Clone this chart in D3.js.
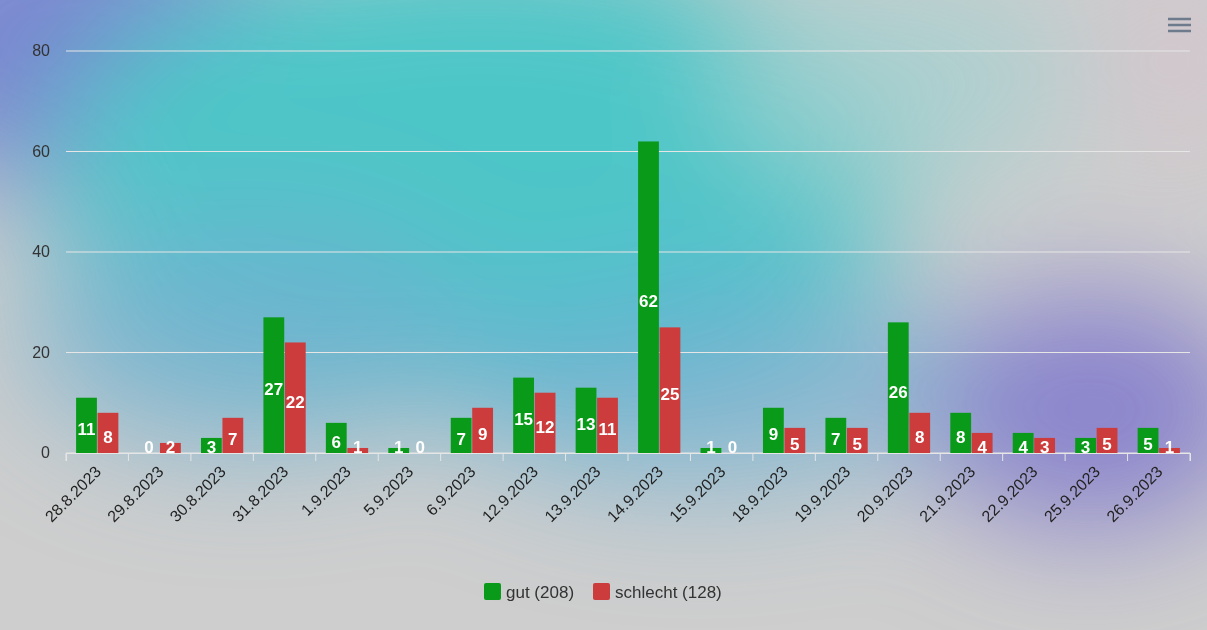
<!DOCTYPE html>
<html><head><meta charset="utf-8">
<script src="https://cdn.jsdelivr.net/npm/d3@7"></script>
<style>body{margin:0;overflow:hidden}svg{display:block;font-family:"Liberation Sans",Arial,sans-serif}</style>
</head><body><svg id="c" width="1207" height="630"></svg>
<script>
const categories=["28.8.2023","29.8.2023","30.8.2023","31.8.2023","1.9.2023","5.9.2023","6.9.2023","12.9.2023","13.9.2023","14.9.2023","15.9.2023","18.9.2023","19.9.2023","20.9.2023","21.9.2023","22.9.2023","25.9.2023","26.9.2023"];
const gut=[11,0,3,27,6,1,7,15,13,62,1,9,7,26,8,4,3,5];
const schlecht=[8,2,7,22,1,0,9,12,11,25,0,5,5,8,4,3,5,1];
const yTicks=[0,20,40,60,80];
const seriesNames=["gut","schlecht"];
const colors=["#0a9a1a","#cc3c3c"];

const svg=d3.select("#c");
const defs=svg.append("defs");
defs.append("filter").attr("id","bl").attr("x","-50%").attr("y","-50%").attr("width","200%").attr("height","200%")
 .append("feGaussianBlur").attr("stdDeviation",60);
svg.append("rect").attr("width",1207).attr("height",630).attr("fill","#cecece");
const bg=svg.append("g").attr("filter","url(#bl)");
bg.append("ellipse").attr("cx",80).attr("cy",40).attr("rx",220).attr("ry",160).attr("fill","#7a86d0");
bg.append("ellipse").attr("cx",480).attr("cy",170).attr("rx",430).attr("ry",230).attr("fill","#4ec6c8");
bg.append("ellipse").attr("cx",250).attr("cy",330).attr("rx",230).attr("ry",120).attr("fill","#6fb0d0").attr("opacity",0.8);
bg.append("ellipse").attr("cx",900).attr("cy",80).attr("rx",180).attr("ry",110).attr("fill","#a8cfcf").attr("opacity",0.8);
bg.append("ellipse").attr("cx",1090).attr("cy",410).attr("rx",170).attr("ry",120).attr("fill","#8a84cc");
bg.append("ellipse").attr("cx",700).attr("cy",380).attr("rx",260).attr("ry",110).attr("fill","#6aaed2").attr("opacity",0.7);
bg.append("ellipse").attr("cx",1180).attr("cy",60).attr("rx",90).attr("ry",100).attr("fill","#d2c6cc");

const L=66,R=1190,T=51,B=453;
const x=d3.scaleBand().domain(categories).range([L,R]);
const xi=d3.scaleBand().domain(seriesNames).range([0,x.bandwidth()]).paddingInner(0.03).paddingOuter(0.47);
const y=d3.scaleLinear().domain([0,80]).range([B,T]);

const g=svg.append("g");
g.selectAll(".gl").data(yTicks).join("line").attr("x1",L).attr("x2",R).attr("y1",d=>y(d)).attr("y2",d=>y(d))
 .attr("stroke","#e6e6e6").attr("stroke-width",1);
g.selectAll(".yl").data(yTicks).join("text").attr("x",50).attr("y",d=>y(d)+5).attr("text-anchor","end")
 .attr("font-size",16).attr("fill","#333").text(d=>d);

const xa=svg.append("g").attr("transform",`translate(0,${B})`).call(d3.axisBottom(x).tickSizeOuter(0).tickSize(8));
xa.select(".domain").attr("stroke","#e6e6e6");
xa.selectAll(".tick line").attr("stroke","#e6e6e6").attr("transform",`translate(${-x.bandwidth()/2},0)`);
xa.append("line").attr("x1",R).attr("x2",R).attr("y1",0).attr("y2",8).attr("stroke","#e6e6e6");
xa.selectAll(".tick text").attr("font-size",16).attr("fill","#222").attr("font-family","Liberation Sans, Arial")
 .attr("text-anchor","end").attr("dy",0).attr("transform","translate(-3,12) rotate(-45)");

const data=categories.map((c,i)=>[{c,s:"gut",v:gut[i],k:0},{c,s:"schlecht",v:schlecht[i],k:1}]).flat();
const bars=svg.append("g");
bars.selectAll("rect").data(data).join("rect").attr("x",d=>x(d.c)+xi(d.s)).attr("width",xi.bandwidth())
 .attr("y",d=>y(d.v)).attr("height",d=>B-y(d.v)).attr("fill",d=>colors[d.k]);
bars.selectAll("text").data(data).join("text").attr("x",d=>x(d.c)+xi(d.s)+xi.bandwidth()/2)
 .attr("y",d=>Math.min((y(d.v)+B)/2+4,447)+6).attr("text-anchor","middle").attr("font-size",17).attr("font-weight","bold")
 .attr("fill","#fff").text(d=>d.v);

const totals=[d3.sum(gut),d3.sum(schlecht)];
const lg=svg.append("g");
const items=[{x:484,n:`gut (${totals[0]})`},{x:593,n:`schlecht (${totals[1]})`}];
items.forEach((it,i)=>{
 lg.append("rect").attr("x",it.x).attr("y",583).attr("width",17).attr("height",17).attr("rx",2).attr("fill",colors[i]);
 lg.append("text").attr("x",it.x+22).attr("y",598).attr("font-size",17).attr("fill","#333").text(it.n);
});
[19,25,31].forEach(yy=>svg.append("line").attr("x1",1168).attr("x2",1191).attr("y1",yy).attr("y2",yy).attr("stroke","#6e7b8c").attr("stroke-width",2.5));
</script></body></html>
